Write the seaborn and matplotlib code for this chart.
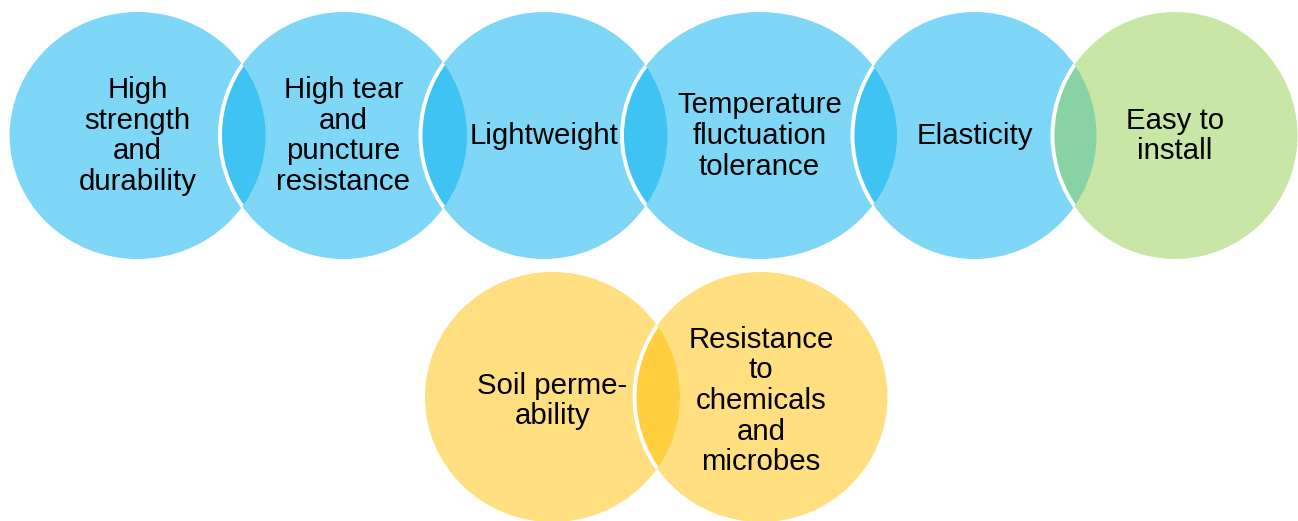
import matplotlib
matplotlib.use("Agg")
import matplotlib.pyplot as plt
from matplotlib.patches import Ellipse
import seaborn as sns

# ---- data ----
top_labels = ["High\nstrength\nand\ndurability",
              "High tear\nand\npuncture\nresistance",
              "Lightweight",
              "Temperature\nfluctuation\ntolerance",
              "Elasticity",
              "Easy to\ninstall"]
top_groups = ["blue", "blue", "blue", "blue", "blue", "green"]
bottom_labels = ["Soil perme-\nability",
                 "Resistance\nto\nchemicals\nand\nmicrobes"]
bottom_groups = ["yellow", "yellow"]

palette = {"blue": "#00B0F0", "green": "#92D050", "yellow": "#FFC000"}

# ---- layout (pixel space) ----
top_cx = [137.6, 343.5, 544.0, 759.5, 974.5, 1175.0]
top_rx = [128.0, 123.5, 123.5, 137.5, 122.0, 122.5]
top_cy, top_ry, top_ty = 135.5, 123.5, 136.0
bot_cx = [552.5, 761.0]
bot_rx = [127.5, 126.5]
bot_cy, bot_ry, bot_ty = 397.0, 125.0, 401.0

sns.set_theme(style="white")
plt.rcParams["font.family"] = ["Liberation Sans", "DejaVu Sans"]

fig = plt.figure(figsize=(12.98, 5.21), dpi=100)
ax = fig.add_axes([0, 0, 1, 1])
ax.set_xlim(0, 1298)
ax.set_ylim(521, 0)
ax.axis("off")


def draw_row(labels, groups, cxs, rxs, cy, ry, ty):
    prev = None
    for i, (lab, g, cx, rx) in enumerate(zip(labels, groups, cxs, rxs)):
        e = Ellipse((cx, cy), 2 * rx, 2 * ry, facecolor=palette[g], alpha=0.5,
                    edgecolor="none", zorder=1 + i * 0.01)
        ax.add_patch(e)
        if prev is not None:
            clipper = Ellipse(prev[0], prev[1], prev[2], facecolor="none",
                              edgecolor="none", transform=ax.transData)
            ax.add_patch(clipper)
            edge = Ellipse((cx, cy), 2 * rx, 2 * ry, facecolor="none",
                           edgecolor="white", linewidth=2.8, zorder=3)
            ax.add_patch(edge)
            edge.set_clip_path(clipper)
        prev = ((cx, cy), 2 * rx, 2 * ry)
        ax.text(cx, ty, lab, ha="center", va="center", fontsize=21.2,
                color="black", linespacing=1.12, zorder=5)


draw_row(top_labels, top_groups, top_cx, top_rx, top_cy, top_ry, top_ty)
draw_row(bottom_labels, bottom_groups, bot_cx, bot_rx, bot_cy, bot_ry, bot_ty)

fig.savefig("out.png", dpi=100, facecolor="white")
